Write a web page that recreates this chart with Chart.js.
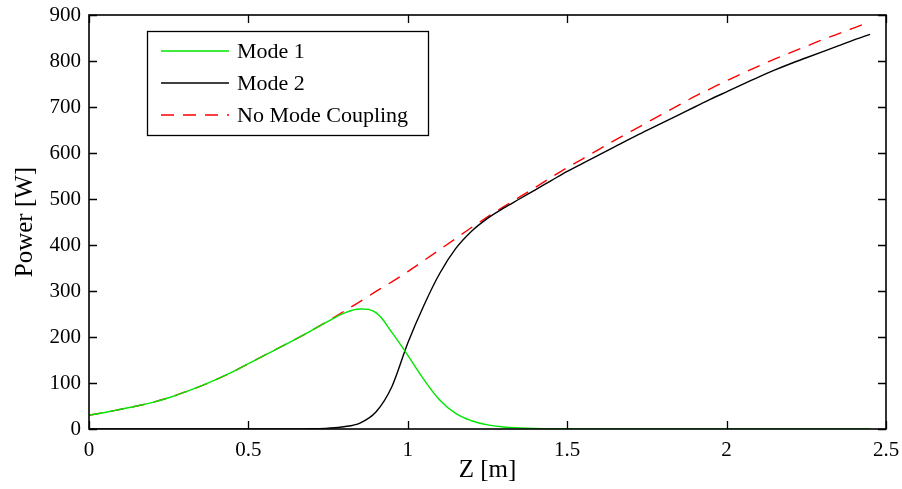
<!DOCTYPE html>
<html>
<head>
<meta charset="utf-8">
<script src="https://cdn.jsdelivr.net/npm/chart.js@4.4.1/dist/chart.umd.min.js"></script>
<style>
  html, body { margin: 0; padding: 0; background: #fff; }
  #wrap { width: 902px; height: 489px; }
</style>
</head>
<body>
<div id="wrap"><canvas id="myChart" width="902" height="489"></canvas></div>
<script>
// Z positions [m]
var zGrid = [0, 0.05, 0.1, 0.15, 0.2, 0.25, 0.3, 0.35, 0.4, 0.45,
             0.5, 0.55, 0.6, 0.65, 0.7, 0.75, 0.8, 0.85, 0.9, 0.95,
             1.0, 1.05, 1.1, 1.15, 1.2, 1.25, 1.3, 1.35, 1.4, 1.45,
             1.5, 1.55, 1.6, 1.65, 1.7, 1.75, 1.8, 1.85, 1.9, 1.95,
             2.0, 2.05, 2.1, 2.15, 2.2, 2.25, 2.3, 2.35, 2.4, 2.45];

// power [W]
var mode1 = [30, 36, 43, 50, 58, 68, 80, 93, 108, 124,
             142, 160, 178, 196, 215, 234, 252, 261, 253, 210,
             160, 108, 63, 34, 18, 9, 4.5, 2.5, 1.3, 0.7,
             0.4, 0.2, 0.1, 0, 0, 0, 0, 0, 0, 0,
             0, 0, 0, 0, 0, 0, 0, 0, 0, 0];
var mode2 = [0, 0, 0, 0, 0, 0, 0, 0, 0, 0,
             0, 0, 0, 0.3, 0.8, 2, 5, 13, 37, 92,
             187, 268, 338, 392, 430, 458, 480, 500, 520, 540,
             560, 578, 596, 614, 632, 649, 666, 683, 700, 717,
             733, 749, 765, 780, 794, 807, 820, 833, 846, 858];
var noCoupling = [30, 36, 43, 50, 58, 68, 80, 93, 108, 124,
                  142, 160, 178, 196, 215, 235, 256, 277, 299, 320,
                  342, 366, 390, 414, 438, 461, 483, 504, 525, 547,
                  568, 588, 608, 628, 647, 666, 685, 704, 723, 740,
                  757, 773, 789, 804, 818, 832, 846, 859, 872, 885];

var xTicks = [0, 0.5, 1, 1.5, 2, 2.5];
var yTicks = [0, 100, 200, 300, 400, 500, 600, 700, 800, 900];

function pts(ys) {
    return zGrid.map(function (z, i) { return { x: z, y: ys[i] }; });
}

var fontFam = "'Liberation Serif', 'Times New Roman', serif";

// box + inward ticks, matlab style
var framePlugin = {
    id: 'frame',
    afterDraw: function (chart) {
        var c = chart.ctx, a = chart.chartArea;
        var xs = chart.scales.x, ys = chart.scales.y;
        var len = 8;
        c.save();
        c.strokeStyle = '#000';
        c.lineWidth = 1.3;
        c.beginPath();
        xTicks.forEach(function (v) {
            var px = Math.round(xs.getPixelForValue(v)) + 0.5;
            c.moveTo(px, a.bottom); c.lineTo(px, a.bottom - len);
            c.moveTo(px, a.top); c.lineTo(px, a.top + len);
        });
        yTicks.forEach(function (v) {
            var py = Math.round(ys.getPixelForValue(v)) + 0.5;
            c.moveTo(a.left, py); c.lineTo(a.left + len, py);
            c.moveTo(a.right, py); c.lineTo(a.right - len, py);
        });
        c.stroke();
        c.lineWidth = 1.6;
        c.strokeRect(a.left, a.top, a.right - a.left, a.bottom - a.top);

        // legend
        var lx = 147, ly = 31, lw = 281, lh = 104;
        c.fillStyle = '#fff';
        c.fillRect(lx, ly, lw, lh);
        c.lineWidth = 1.3;
        c.strokeRect(lx + 0.5, ly + 0.5, lw, lh);
        c.font = '22px ' + fontFam;
        c.textBaseline = 'middle';
        chart.data.datasets.forEach(function (ds, i) {
            var yy = ly + 20 + i * 32;
            c.beginPath();
            c.strokeStyle = ds.borderColor;
            c.lineWidth = ds.borderWidth;
            c.setLineDash(ds.borderDash || []);
            c.moveTo(lx + 14, yy); c.lineTo(lx + 82, yy);
            c.stroke();
            c.setLineDash([]);
            c.fillStyle = '#000';
            c.fillText(ds.label, lx + 90, yy + 1);
        });
        c.restore();
    }
};

var ctx = document.getElementById('myChart');
new Chart(ctx, {
    type: 'line',
    data: {
        datasets: [{
            label: 'Mode 1',
            data: pts(mode1),
            borderColor: '#00e600',
            borderWidth: 1.4,
            pointRadius: 0,
            tension: 0.4
        }, {
            label: 'Mode 2',
            data: pts(mode2),
            borderColor: '#000000',
            borderWidth: 1.4,
            pointRadius: 0,
            cubicInterpolationMode: 'monotone'
        }, {
            label: 'No Mode Coupling',
            data: pts(noCoupling),
            borderColor: '#ff0000',
            borderWidth: 1.4,
            borderDash: [13, 9],
            pointRadius: 0,
            cubicInterpolationMode: 'monotone'
        }]
    },
    options: {
        responsive: false,
        animation: false,
        layout: { padding: { top: 15, right: 16, left: 0, bottom: 0 } },
        plugins: { legend: { display: false }, tooltip: { enabled: false } },
        scales: {
            x: {
                type: 'linear',
                min: 0, max: 2.5,
                afterBuildTicks: function (s) { s.ticks = xTicks.map(function (v) { return { value: v }; }); },
                afterFit: function (s) { s.height = 60; s.paddingLeft = 0; s.paddingRight = 0; },
                grid: { display: false, drawTicks: false },
                border: { display: false },
                ticks: { color: '#000', font: { family: fontFam, size: 21 }, padding: 9, maxRotation: 0,
                         callback: function (v) { return String(v); } },
                title: { display: true, text: 'Z [m]', color: '#000', font: { family: fontFam, size: 25 }, padding: { top: 0 } }
            },
            y: {
                min: 0, max: 900,
                afterBuildTicks: function (s) { s.ticks = yTicks.map(function (v) { return { value: v }; }); },
                afterFit: function (s) { s.width = 89; s.paddingTop = 0; s.paddingBottom = 0; },
                grid: { display: false, drawTicks: false },
                border: { display: false },
                ticks: { color: '#000', font: { family: fontFam, size: 21 }, padding: 8 },
                title: { display: true, text: 'Power [W]', color: '#000', font: { family: fontFam, size: 25 }, padding: { top: 10, bottom: 0 } }
            }
        }
    },
    plugins: [framePlugin]
});
</script>
</body>
</html>
